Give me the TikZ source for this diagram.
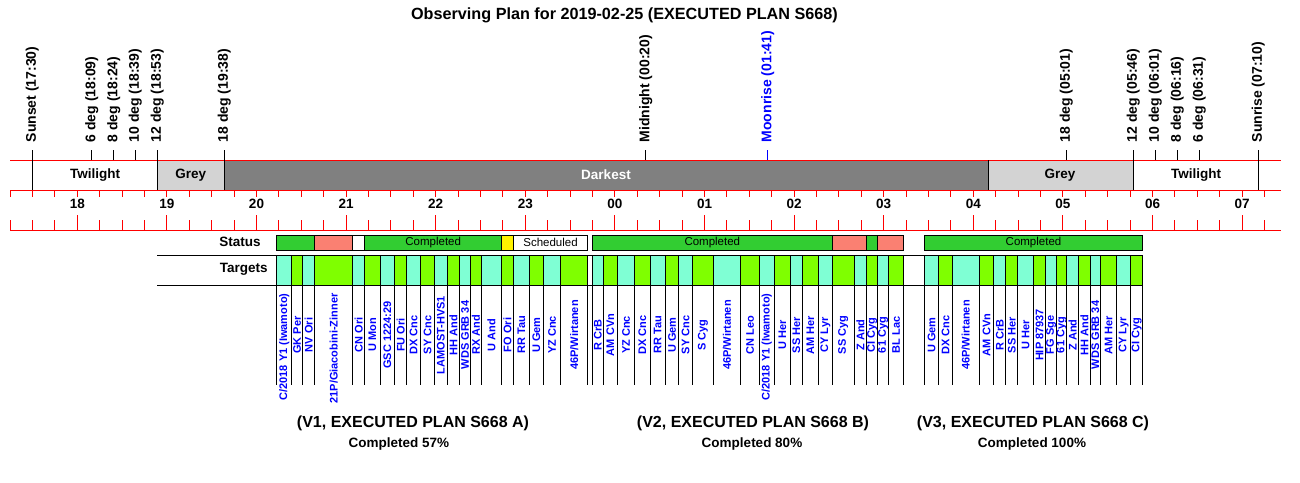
\documentclass[tikz,border=0pt]{standalone}
\usepackage{fontspec}
\setmainfont{Liberation Sans}
\definecolor{okgreen}{HTML}{32CD32}
\definecolor{failred}{HTML}{FA8072}
\definecolor{tcyan}{HTML}{7FFFD4}
\definecolor{tgreen}{HTML}{7FFF00}
\definecolor{greyband}{HTML}{D3D3D3}
\definecolor{darkband}{HTML}{808080}
\tikzset{
  redline/.style={draw=red, line width=1pt},
  evline/.style={draw=black, line width=1pt},
  evlabel/.style={rotate=90, anchor=west, inner sep=0pt, font=\bfseries\fontsize{14}{14}\selectfont},
  tgtlabel/.style={rotate=90, inner sep=0pt, text=blue, font=\bfseries\fontsize{11}{11}\selectfont},
  hourlabel/.style={inner sep=0pt, font=\bfseries\fontsize{13.5}{13.5}\selectfont},
  statlabel/.style={inner sep=0pt, font=\fontsize{11.5}{11.5}\selectfont},
  statbox/.style={draw=black, line width=1pt},
}
\begin{document}
\begin{tikzpicture}[x=1pt,y=-1pt]
\useasboundingbox (0,0) rectangle (1300,482);
\node(title) at (624.5,15)[font=\bfseries\fontsize{16.2}{16.2}\selectfont]{Observing Plan for 2019-02-25 (EXECUTED PLAN S668)};

% sky bands
\fill[greyband] (157.3,160.3) rectangle (224.3,190.3);
\fill[darkband] (224.3,160.3) rectangle (988.3,190.3);
\fill[greyband] (988.3,160.3) rectangle (1133.3,190.3);
\node(twilight1) at (95,175)[hourlabel]{Twilight};
\node(grey1) at (190.7,175)[hourlabel]{Grey};
\node(darkest) at (606,175)[hourlabel,text=white]{Darkest};
\node(grey2) at (1060,175)[hourlabel]{Grey};
\node(twilight2) at (1196,175)[hourlabel]{Twilight};

% time axis
\draw[redline] (10,160.3) -- (1281,160.3);
\draw[redline] (10,190.3) -- (1281,190.3);
\draw[redline] (10,230) -- (1281,230);
\foreach \i in {0,...,56}
  \draw[redline] (10.1+\i*22.4,190.3) -- ++(0,6.4)
                 (10.1+\i*22.4,230) -- ++(0,-10);
\foreach \i in {0,...,13}
  \draw[redline] (77.3+\i*89.6,230) -- ++(0,-15);
\foreach \h [count=\k from 0] in {18,19,20,21,22,23,00,01,02,03,04,05,06,07}
  \node(h\k) at (77.3+\k*89.6,204)[hourlabel]{\h};

% events
\foreach \x/\y/\c/\t [count=\k] in {32.3/190.3/black/Sunset (17:30),
    91.7/160.3/black/6 deg (18:09), 113.7/160.3/black/8 deg (18:24),
    135.3/160.3/black/10 deg (18:39), 157.3/190.3/black/12 deg (18:53),
    224.3/190.3/black/18 deg (19:38), 645.7/160.3/black/Midnight (00:20),
    767.7/160.3/blue/Moonrise (01:41), 1066.3/160.3/black/18 deg (05:01),
    1133.3/190.3/black/12 deg (05:46), 1155.3/160.3/black/10 deg (06:01),
    1177.3/160.3/black/8 deg (06:16), 1199.3/160.3/black/6 deg (06:31),
    1258.3/190.3/black/Sunrise (07:10)}{
  \draw[evline,draw=\c] (\x,150) -- (\x,\y);
  \node(ev\k) at (\x,142.5)[evlabel,text=\c]{\t};
}
\draw[evline] (988.3,160.3) -- (988.3,190.3);

% status and targets
\node(status) at (240,241.5)[hourlabel]{Status};
\node(targets) at (243.7,269.7)[hourlabel]{Targets};
\draw[evline] (157.3,255.3) -- (1142.7,255.3) (157.3,285.3) -- (1142.7,285.3);
\foreach \a/\b/\c/\t [count=\k] in {276.7/314.7/okgreen/{}, 314.7/352.7/failred/{},
    352.7/364.7/white/{}, 364.7/501.7/okgreen/Completed, 501.7/513.3/yellow/{},
    513.3/587.7/white/Scheduled, 592.3/832.3/okgreen/Completed,
    832.3/866.7/failred/{}, 866.7/877.7/okgreen/{}, 877.7/903.7/failred/{},
    924.3/1142.7/okgreen/Completed}{
  \draw[statbox,fill=\c] (\a,235) rectangle (\b,250);
  \node(s\k) at ({(\a+\b)/2},242.6)[statlabel]{\t};
}

% V1 targets
\foreach \a/\b/\c/\y/\t [count=\k] in {
    276.7/291.7/tcyan/347/{C/2018 Y1 (Iwamoto)}, 291.7/302.7/tgreen/335/GK Per,
    302.7/314.7/tcyan/335/NV Ori, 314.7/352.7/tgreen/348.5/{21P/Giacobini-Zinner},
    352.7/364.7/tcyan/335/CN Ori, 364.7/380/tgreen/335/U Mon,
    380/394.7/tcyan/335/GSC 1224:29, 394.7/406.7/tgreen/335/FU Ori,
    406.7/420.7/tcyan/335/DX Cnc, 420.7/434.3/tgreen/335/SY Cnc,
    434.3/447.5/tcyan/335/LAMOST-HVS1, 447.5/459.5/tgreen/335/HH And,
    459.5/470.7/tcyan/335/WDS GRB 34, 470.7/481.3/tgreen/335/RX And,
    481.3/501.7/tcyan/335/U And, 501.7/513.3/tgreen/335/FO Ori,
    513.3/529.3/tcyan/335/RR Tau, 529.3/543.3/tgreen/335/U Gem,
    543.3/560.7/tcyan/335/YZ Cnc, 560.7/587.7/tgreen/335/{46P/Wirtanen}}{
  \draw[statbox,fill=\c] (\a,255.3) rectangle (\b,285.3);
  \draw[evline] (\a,285.3) -- (\a,385) (\b,285.3) -- (\b,385);
  \node(a\k) at ({(\a+\b)/2},\y)[tgtlabel]{\t};
}

% V2 targets
\foreach \a/\b/\c/\y/\t [count=\k] in {
    592.3/603.3/tcyan/335/R CrB, 603.3/617.3/tgreen/335/AM CVn,
    617.3/634.7/tcyan/335/YZ Cnc, 634.7/650/tgreen/335/DX Cnc,
    650/665.3/tcyan/335/RR Tau, 665.3/678.7/tgreen/335/U Gem,
    678.7/692.7/tcyan/335/SY Cnc, 692.7/713.3/tgreen/335/S Cyg,
    713.3/740.7/tcyan/335/{46P/Wirtanen}, 740.7/759.3/tgreen/335/CN Leo,
    759.3/774.3/tcyan/347/{C/2018 Y1 (Iwamoto)}, 774.3/790.3/tgreen/335/U Her,
    790.3/802.3/tcyan/335/SS Her, 802.3/818.3/tgreen/335/AM Her,
    818.3/832.3/tcyan/335/CY Lyr, 832.3/854.3/tgreen/335/SS Cyg,
    854.3/866.7/tcyan/335/Z And, 866.7/877.7/tgreen/335/CI Cyg,
    877.7/888.7/tcyan/335/61 Cyg, 888.7/903.7/tgreen/335/BL Lac}{
  \draw[statbox,fill=\c] (\a,255.3) rectangle (\b,285.3);
  \draw[evline] (\a,285.3) -- (\a,385) (\b,285.3) -- (\b,385);
  \node(b\k) at ({(\a+\b)/2},\y)[tgtlabel]{\t};
}

% V3 targets
\foreach \a/\b/\c/\y/\t [count=\k] in {
    924.3/938.7/tcyan/335/U Gem, 938.7/952.3/tgreen/335/DX Cnc,
    952.3/979.3/tcyan/335/{46P/Wirtanen}, 979.3/993.7/tgreen/335/AM CVn,
    993.7/1005.7/tcyan/335/R CrB, 1005.7/1017.7/tgreen/335/SS Her,
    1017.7/1033.7/tcyan/335/U Her, 1033.7/1045.7/tgreen/335/HIP 87937,
    1045.7/1056.7/tcyan/335/FG Sge, 1056.7/1066.7/tgreen/335/61 Cyg,
    1066.7/1078.7/tcyan/335/Z And, 1078.7/1090/tgreen/335/HH And,
    1090/1100.7/tcyan/335/WDS GRB 34, 1100.7/1116.7/tgreen/335/AM Her,
    1116.7/1130.7/tcyan/335/CY Lyr, 1130.7/1142.7/tgreen/335/CI Cyg}{
  \draw[statbox,fill=\c] (\a,255.3) rectangle (\b,285.3);
  \draw[evline] (\a,285.3) -- (\a,385) (\b,285.3) -- (\b,385);
  \node(c\k) at ({(\a+\b)/2},\y)[tgtlabel]{\t};
}

% plan captions
\node(v1) at (413,423)[font=\bfseries\fontsize{16}{16}\selectfont]{(V1, EXECUTED PLAN S668 A)};
\node(p1) at (399,444)[hourlabel]{Completed 57\%};
\node(v2) at (753,423)[font=\bfseries\fontsize{16}{16}\selectfont]{(V2, EXECUTED PLAN S668 B)};
\node(p2) at (752,444)[hourlabel]{Completed 80\%};
\node(v3) at (1033,423)[font=\bfseries\fontsize{16}{16}\selectfont]{(V3, EXECUTED PLAN S668 C)};
\node(p3) at (1032,444)[hourlabel]{Completed 100\%};
\end{tikzpicture}
\end{document}
